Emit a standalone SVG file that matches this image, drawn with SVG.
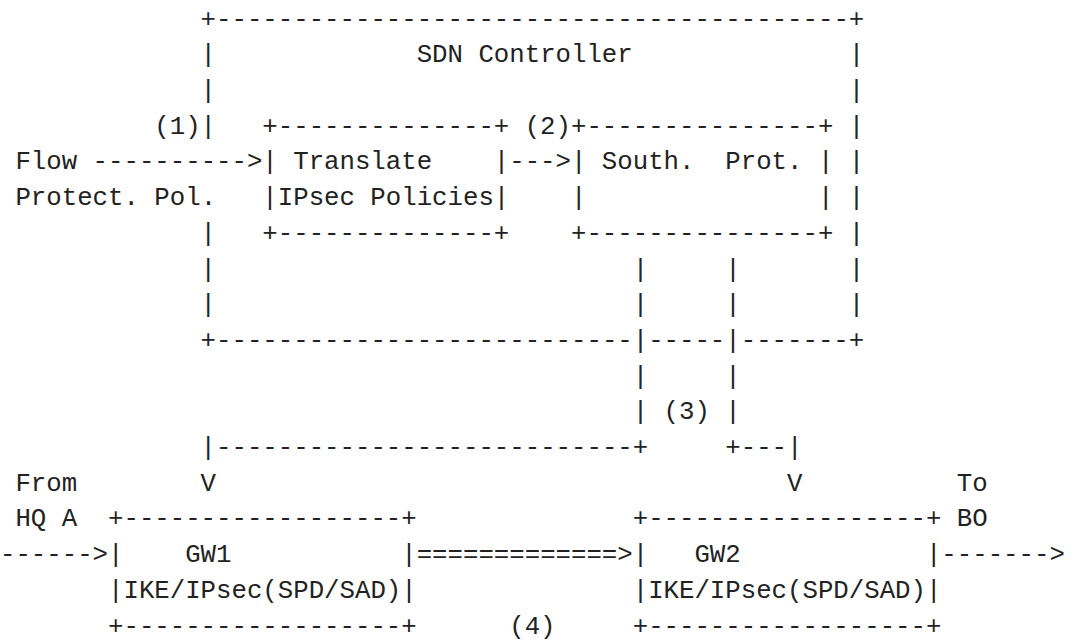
<svg xmlns="http://www.w3.org/2000/svg" width="1079" height="641" viewBox="0 0 1079 641" xml:space="preserve">
<style>
text{font-family:"Liberation Mono","DejaVu Sans Mono",monospace;font-size:25.72px;fill:#222;white-space:pre}
</style>
<rect x="0" y="0" width="1079" height="641" fill="#fff"/>
<g transform="translate(0,-1.8)">
<g id="sdn-controller">
<text x="200.62" y="28.5">+-----------------------------------------+</text>
<text x="200.62" y="64.2">|</text><text x="416.66" y="64.2">SDN Controller</text><text x="848.76" y="64.2">|</text>
<text x="200.62" y="99.9">|</text><text x="848.76" y="99.9">|</text>
<text x="200.62" y="135.6">|</text><text x="848.76" y="135.6">|</text>
<text x="848.76" y="171.3">|</text>
<text x="848.76" y="207.0">|</text>
<text x="200.62" y="242.7">|</text><text x="848.76" y="242.7">|</text>
<text x="200.62" y="278.4">|</text><text x="848.76" y="278.4">|</text>
<text x="200.62" y="314.1">|</text><text x="848.76" y="314.1">|</text>
<text x="200.62" y="349.8">+---------------------------</text><text x="648.14" y="349.8">-----</text><text x="740.74" y="349.8">-------+</text>
</g>
<g id="translate">
<text x="262.34" y="135.6">+--------------+</text>
<text x="262.34" y="171.3">| Translate    |</text>
<text x="262.34" y="207.0">|IPsec Policies|</text>
<text x="262.34" y="242.7">+--------------+</text>
</g>
<g id="southbound">
<text x="570.98" y="135.6">+---------------+</text>
<text x="570.98" y="171.3">| South.  Prot. |</text>
<text x="570.98" y="207.0">|</text><text x="817.90" y="207.0">|</text>
<text x="570.98" y="242.7">+---------------+</text>
</g>
<g id="gw1">
<text x="108.02" y="528.3">+------------------+</text>
<text x="108.02" y="564.0">|    GW1           |</text>
<text x="108.02" y="599.7">|IKE/IPsec(SPD/SAD)|</text>
<text x="108.02" y="635.4">+------------------+</text>
</g>
<g id="gw2">
<text x="632.71" y="528.3">+------------------+</text>
<text x="632.71" y="564.0">|   GW2            |</text>
<text x="632.71" y="599.7">|IKE/IPsec(SPD/SAD)|</text>
<text x="632.71" y="635.4">+------------------+</text>
</g>
<g id="connectors">
<text x="154.32" y="135.6">(1)</text>
<text x="15.43" y="171.3">Flow ----------&gt;</text>
<text x="15.43" y="207.0">Protect. Pol.</text>
<text x="524.69" y="135.6">(2)</text>
<text x="509.26" y="171.3">---&gt;</text>
<text x="632.71" y="278.4">|</text><text x="725.30" y="278.4">|</text>
<text x="632.71" y="314.1">|</text><text x="725.30" y="314.1">|</text>
<text x="632.71" y="349.8">|</text><text x="725.30" y="349.8">|</text>
<text x="632.71" y="385.5">|</text><text x="725.30" y="385.5">|</text>
<text x="632.71" y="421.2">|</text><text x="663.58" y="421.2">(3)</text><text x="725.30" y="421.2">|</text>
<text x="200.62" y="456.9">|---------------------------+</text><text x="725.30" y="456.9">+---|</text>
<text x="15.43" y="492.6">From</text><text x="200.62" y="492.6">V</text><text x="787.03" y="492.6">V</text><text x="956.78" y="492.6">To</text>
<text x="15.43" y="528.3">HQ A</text><text x="956.78" y="528.3">BO</text>
<text x="0" y="564.0">------&gt;</text>
<text x="416.66" y="564.0">=============&gt;</text>
<text x="941.35" y="564.0">-------&gt;</text>
<text x="509.26" y="635.4">(4)</text>
</g>
</g>
</svg>
